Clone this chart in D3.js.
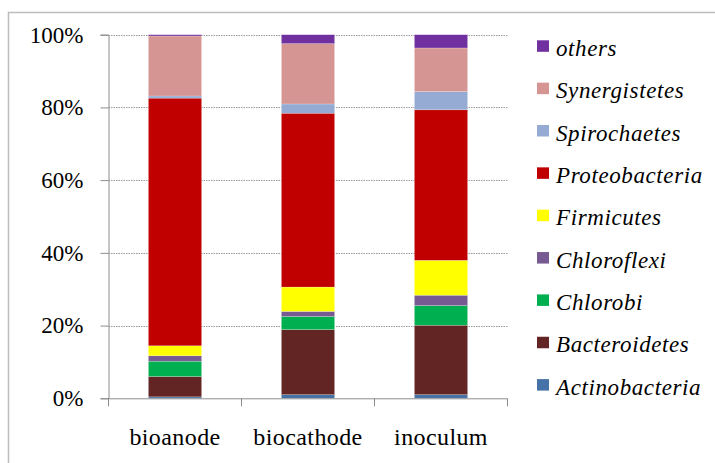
<!DOCTYPE html>
<html>
<head>
<meta charset="utf-8">
<script src="https://cdn.jsdelivr.net/npm/d3@7/dist/d3.min.js"></script>
<style>
  html, body { margin: 0; padding: 0; background: #fff; }
  svg { display: block; }
  svg text { font-family: 'Liberation Serif', 'Times New Roman', Times, 'DejaVu Serif', serif; fill: #000; }
</style>
</head>
<body>
<svg id="chart" width="715" height="463"></svg>
<script>
// Sample sites (x categories)
const samples = ["bioanode", "biocathode", "inoculum"];

// Phyla, stacked from the bottom up
const phyla = ["Actinobacteria", "Bacteroidetes", "Chlorobi", "Chloroflexi", "Firmicutes",
               "Proteobacteria", "Spirochaetes", "Synergistetes", "others"];

// Relative abundance (%) per phylum, in the order of `samples`
const actinobacteria = [0.4, 1.0, 1.0];
const bacteroidetes  = [5.6, 17.9, 19.1];
const chlorobi       = [4.2, 3.6, 5.4];
const chloroflexi    = [1.5, 1.4, 2.85];
const firmicutes     = [2.75, 6.7, 9.6];
const proteobacteria = [68.1, 47.8, 41.4];
const spirochaetes   = [0.6, 2.55, 5.0];
const synergistetes  = [16.5, 16.6, 12.0];
const others         = [0.35, 2.45, 3.65];

const phylumColors = ["#4573A7", "#632523", "#00B050", "#765A91", "#FFFF00",
                      "#C00000", "#95ABD3", "#D59592", "#7030A0"];

const yTicks = [0, 20, 40, 60, 80, 100];

const seriesValues = [actinobacteria, bacteroidetes, chlorobi, chloroflexi, firmicutes,
                      proteobacteria, spirochaetes, synergistetes, others];

const serif = "'Liberation Serif', 'Times New Roman', Times, 'DejaVu Serif', serif";

// Build rows of {sample, phylum: value} and normalise each to 100%
const rows = samples.map((s, i) => {
  const r = { sample: s };
  phyla.forEach((p, j) => { r[p] = seriesValues[j][i]; });
  const total = d3.sum(phyla, p => r[p]);
  phyla.forEach(p => { r[p] = r[p] / total * 100; });
  return r;
});

const svg = d3.select("#chart");
const plot = { left: 108.5, right: 507.5, top: 34.7, bottom: 398.3 };

// Outer frame
svg.append("path")
  .attr("d", `M8.5,470 V12.5 H720`)
  .attr("fill", "none")
  .attr("stroke", "#bdbdbd")
  .attr("stroke-width", 1.5);

const x = d3.scaleBand()
  .domain(samples)
  .range([plot.left, plot.right])
  .paddingInner(0.6)
  .paddingOuter(0.3);

const y = d3.scaleLinear().domain([0, 100]).range([plot.bottom, plot.top]);

const color = d3.scaleOrdinal().domain(phyla).range(phylumColors);

// Dotted gridlines
svg.append("g")
  .selectAll("line")
  .data(yTicks.filter(t => t > 0))
  .join("line")
  .attr("x1", plot.left).attr("x2", plot.right)
  .attr("y1", d => Math.round(y(d)) + 0.5).attr("y2", d => Math.round(y(d)) + 0.5)
  .attr("stroke", "#9a9a9a")
  .attr("stroke-width", 1)
  .attr("stroke-dasharray", "1.5,1");

// Stacked bars
const stack = d3.stack().keys(phyla)(rows);
svg.append("g")
  .selectAll("g")
  .data(stack)
  .join("g")
  .attr("fill", d => color(d.key))
  .selectAll("rect")
  .data(d => d)
  .join("rect")
  .attr("x", d => x(d.data.sample))
  .attr("width", x.bandwidth())
  .attr("y", d => y(d[1]))
  .attr("height", d => y(d[0]) - y(d[1]))
  .attr("stroke", "rgba(255,255,255,0.35)")
  .attr("stroke-width", 0.6);

// Y axis
const yAxis = d3.axisLeft(y)
  .tickValues(yTicks)
  .tickFormat(d => d + "%")
  .tickSize(8)
  .tickPadding(17);
const gy = svg.append("g").attr("transform", `translate(${plot.left},0)`).call(yAxis);
gy.attr("font-family", null).attr("font-size", null);
gy.select(".domain").attr("stroke", "#8c8c8c");
gy.selectAll(".tick line").attr("stroke", "#8c8c8c");
gy.selectAll(".tick text")
  .style("font-family", serif)
  .style("font-size", "23px")
  .attr("fill", "#000");

// X axis with ticks at category boundaries
const boundaries = [plot.left].concat(samples.map(s => x(s) + x.bandwidth() / 2 + x.step() / 2));
const gx = svg.append("g");
gx.append("line")
  .attr("x1", plot.left).attr("x2", plot.right)
  .attr("y1", plot.bottom + 0.5).attr("y2", plot.bottom + 0.5)
  .attr("stroke", "#8c8c8c");
gx.selectAll("line.tk")
  .data(boundaries)
  .join("line")
  .attr("class", "tk")
  .attr("x1", d => d).attr("x2", d => d)
  .attr("y1", plot.bottom).attr("y2", plot.bottom + 8)
  .attr("stroke", "#8c8c8c");
gx.selectAll("text")
  .data(samples)
  .join("text")
  .attr("x", d => x(d) + x.bandwidth() / 2)
  .attr("y", 445)
  .attr("text-anchor", "middle")
  .style("font-family", serif)
  .style("font-size", "24px")
  .style("letter-spacing", "0.4px")
  .text(d => d);

// Legend, top entry = last stacked series
const legendItems = phyla.slice().reverse();
const legend = svg.append("g");
const rowH = 42.35;
const item = legend.selectAll("g")
  .data(legendItems)
  .join("g")
  .attr("transform", (d, i) => `translate(537, ${55.8 + i * rowH})`);
item.append("rect")
  .attr("x", 0).attr("y", -15.5)
  .attr("width", 12).attr("height", 11.5)
  .attr("fill", d => color(d));
item.append("text")
  .attr("x", 19).attr("y", 0)
  .style("font-family", serif)
  .style("font-size", "23px")
  .style("font-style", "italic")
  .style("letter-spacing", "0.6px")
  .text(d => d);
</script>
</body>
</html>
